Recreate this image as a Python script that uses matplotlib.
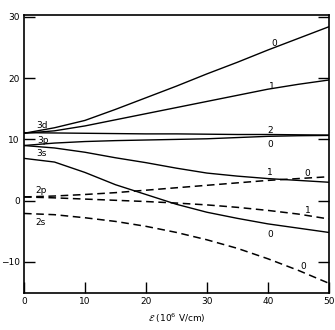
import matplotlib
matplotlib.use('Agg')
import matplotlib.pyplot as plt

# field strength (10^6 V/cm)
field = [0, 5, 10, 15, 20, 25, 30, 35, 40, 45, 50]

# n = 3 levels (solid)
d3_m0 = [11.0, 11.9, 13.1, 14.9, 16.8, 18.7, 20.7, 22.6, 24.6, 26.5, 28.4]
d3_m1 = [11.0, 11.4, 12.2, 13.2, 14.2, 15.2, 16.2, 17.2, 18.2, 19.0, 19.7]
d3_m2 = [11.1, 11.05, 11.0, 10.95, 10.9, 10.9, 10.85, 10.8, 10.8, 10.75, 10.7]
p3_m0 = [9.0, 9.4, 9.65, 9.8, 9.9, 10.0, 10.1, 10.3, 10.5, 10.6, 10.65]
p3_m1 = [9.0, 8.6, 7.9, 7.0, 6.2, 5.3, 4.5, 4.0, 3.6, 3.3, 3.0]
s3_m0 = [6.9, 6.3, 4.6, 2.6, 1.0, -0.6, -1.9, -2.9, -3.8, -4.5, -5.2]

# n = 2 levels (dashed)
p2_m0 = [0.6, 0.75, 1.0, 1.3, 1.7, 2.1, 2.5, 2.9, 3.3, 3.6, 3.9]
p2_m1 = [0.6, 0.45, 0.25, 0.05, -0.15, -0.4, -0.7, -1.1, -1.6, -2.2, -3.0]
s2_m0 = [-2.1, -2.3, -2.8, -3.4, -4.2, -5.2, -6.4, -7.8, -9.5, -11.4, -13.5]

solid_curves = [d3_m0, d3_m1, d3_m2, p3_m0, p3_m1, s3_m0]
dashed_curves = [p2_m0, p2_m1, s2_m0]

# state names at zero field
state_names = ['3d', '3p', '3s', '2p', '2s']
state_x = [2.0, 2.2, 2.0, 1.8, 1.8]
state_y = [12.3, 9.9, 7.7, 1.7, -3.6]

# |m| labels along the curves
m_labels = ['0', '1', '2', '0', '1', '0', '1', '0', '0']
m_x = [41.0, 40.7, 40.4, 40.4, 40.4, 46.5, 46.5, 40.4, 45.8]
m_y = [25.7, 18.7, 11.5, 9.2, 4.6, 4.5, -1.6, -5.5, -10.7]

x_ticks = [0, 10, 20, 30, 40, 50]
y_ticks = [-10, 0, 10, 20, 30]

fig = plt.figure(figsize=(3.35, 3.3), dpi=100)
ax = fig.add_axes([0.0716, 0.112, 0.910, 0.844])

for c in solid_curves:
    ax.plot(field, c, color='black', linewidth=1.0)
for c in dashed_curves:
    ax.plot(field, c, color='black', linewidth=1.1, dashes=(5, 3))

for name, x, y in zip(state_names, state_x, state_y):
    ax.text(x, y, name, fontsize=6.5, ha='left', va='center')
for lab, x, y in zip(m_labels, m_x, m_y):
    ax.text(x, y, lab, fontsize=6.5, ha='center', va='center')

ax.set_xlim(0, 50)
ax.set_ylim(-15.1, 30.4)
ax.set_xticks(x_ticks)
ax.set_yticks(y_ticks)
ax.tick_params(direction='in', length=8, width=1.0, labelsize=6.5,
               left=True, right=True, bottom=True, top=False, pad=3)
for s in ax.spines.values():
    s.set_linewidth(1.2)

ax.set_xlabel(r'$\mathcal{E}$ (10$^6$ V/cm)', fontsize=6.5, labelpad=4)

fig.savefig('out.png', dpi=100)
